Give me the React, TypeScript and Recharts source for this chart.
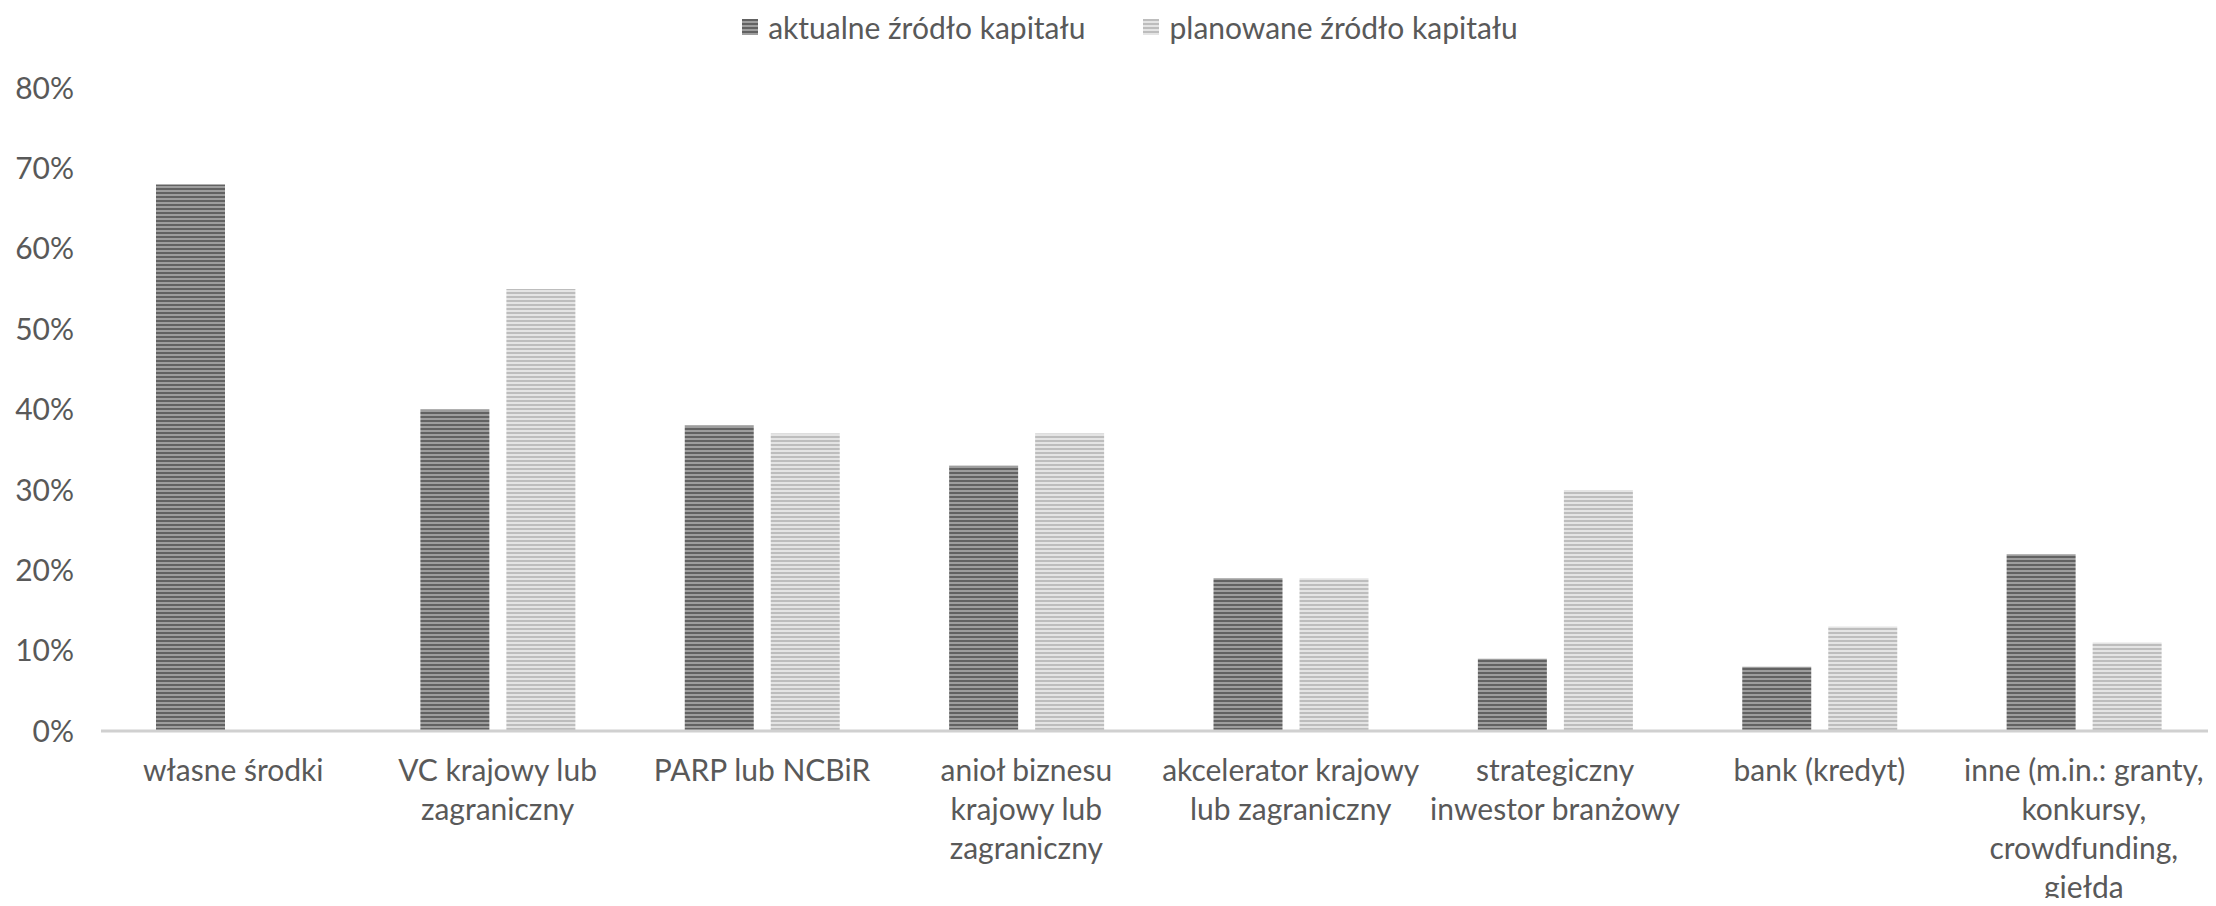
import { BarChart, Bar, XAxis, YAxis, Legend } from 'recharts';

const categories = [
  'własne środki',
  'VC krajowy lub\nzagraniczny',
  'PARP lub NCBiR',
  'anioł biznesu\nkrajowy lub\nzagraniczny',
  'akcelerator krajowy\nlub zagraniczny',
  'strategiczny\ninwestor branżowy',
  'bank (kredyt)',
  'inne (m.in.: granty,\nkonkursy,\ncrowdfunding,\ngiełda',
];
const currentSource = [68, 40, 38, 33, 19, 9, 8, 22];
const plannedSource = [null, 55, 37, 37, 19, 30, 13, 11];
const seriesNames = ['aktualne źródło kapitału', 'planowane źródło kapitału'];
const yTicks = [0, 10, 20, 30, 40, 50, 60, 70, 80];

const data = categories.map((name, i) => ({
  name,
  current: currentSource[i],
  planned: plannedSource[i],
}));

const FONT = 'Lato, "Open Sans", sans-serif';
const TEXT = '#595959';
const FS = 30;

function XTick({ x, y, payload }: any) {
  const lines = String(payload.value).split('\n');
  return (
    <text x={x} y={y} textAnchor="middle" fill={TEXT} fontSize={FS} fontFamily={FONT}>
      {lines.map((l, i) => (
        <tspan key={i} x={x} dy={i === 0 ? 50 : 39}>
          {l}
        </tspan>
      ))}
    </text>
  );
}

function LegendContent() {
  const items = [
    { label: seriesNames[0], fill: 'url(#darkStripes)' },
    { label: seriesNames[1], fill: 'url(#lightStripes)' },
  ];
  return (
    <div
      style={{
        display: 'flex',
        justifyContent: 'center',
        paddingLeft: 44,
        fontFamily: FONT,
        fontSize: FS,
        color: TEXT,
        lineHeight: '40px',
      }}
    >
      {items.map((it, i) => (
        <div key={i} style={{ display: 'flex', alignItems: 'center', marginLeft: i ? 58 : 0 }}>
          <svg width={16} height={16} style={{ marginRight: 10 }}>
            <rect width={16} height={16} fill={it.fill} />
          </svg>
          <span>{it.label}</span>
        </div>
      ))}
    </div>
  );
}

export default function App() {
  return (
    <div style={{ margin: -8, width: 2216, height: 906, background: '#fff' }}>
      <BarChart
        width={2216}
        height={906}
        data={data}
        margin={{ top: 7, right: 0, left: 0, bottom: 0 }}
        barCategoryGap={55}
        barGap={17}
      >
        <defs>
          <pattern id="darkStripes" width={8} height={4} patternUnits="userSpaceOnUse">
            <rect width={8} height={4} fill="#9e9e9e" />
            <rect width={8} height={2} fill="#626262" />
          </pattern>
          <pattern id="lightStripes" width={8} height={4} patternUnits="userSpaceOnUse">
            <rect width={8} height={4} fill="#e4e4e4" />
            <rect width={8} height={2} fill="#bdbdbd" />
          </pattern>
        </defs>
        <Legend verticalAlign="top" height={81} content={<LegendContent />} />
        <XAxis
          dataKey="name"
          height={175}
          interval={0}
          tickLine={false}
          tickSize={0}
          tickMargin={0}
          axisLine={{ stroke: '#d0d0d0', strokeWidth: 3 }}
          tick={<XTick />}
        />
        <YAxis
          width={101}
          domain={[0, 80]}
          ticks={yTicks}
          axisLine={false}
          tickLine={false}
          tickSize={0}
          tickMargin={27}
          tickFormatter={(v) => `${v}%`}
          tick={{ fill: TEXT, fontSize: FS, fontFamily: FONT }}
        />
        <Bar dataKey="current" name={seriesNames[0]} fill="url(#darkStripes)" isAnimationActive={false} />
        <Bar dataKey="planned" name={seriesNames[1]} fill="url(#lightStripes)" isAnimationActive={false} />
      </BarChart>
    </div>
  );
}
